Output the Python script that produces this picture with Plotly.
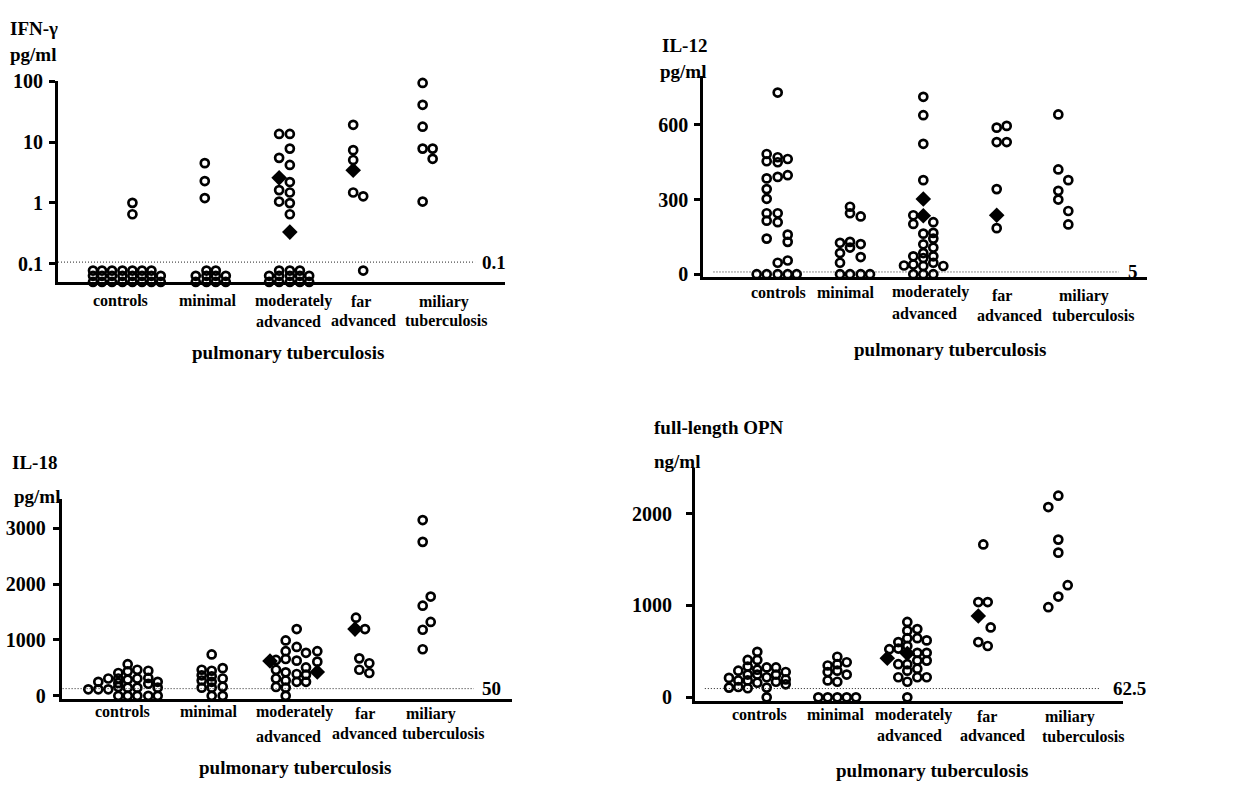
import math
import plotly.graph_objects as go

W, H = 1255, 789
FONT = "Liberation Serif"

CATEGORIES = ["controls", "minimal", "moderately\nadvanced", "far\nadvanced", "miliary\ntuberculosis"]
GROUP_TITLE = "pulmonary tuberculosis"

# ---------------- IFN-gamma (pg/ml, log scale) ----------------
IFN_COLS_X = [9.33, 10.23, 11.23, 12.27, 13.27, 14.23, 15.17, 16.1,
              19.6, 20.5, 20.67, 21.6, 22.6,
              26.93, 27.93, 29.0, 30.0, 30.93,
              35.33, 36.33,
              42.27, 43.27]
IFN_COLS_VALUES = [
    [0.077, 0.063, 0.050], [0.077, 0.063, 0.050], [0.077, 0.063, 0.050], [0.077, 0.063, 0.050],
    [0.077, 0.063, 0.050, 1.0, 0.65], [0.077, 0.063, 0.050], [0.077, 0.063, 0.050], [0.063, 0.050],
    [0.063, 0.050], [4.5, 2.28, 1.2], [0.077, 0.063, 0.050], [0.077, 0.063, 0.050], [0.063, 0.050],
    [0.063, 0.050], [13.6, 5.5, 1.62, 1.05, 0.077, 0.063, 0.050],
    [13.6, 7.8, 4.2, 2.2, 1.48, 0.99, 0.65, 0.077, 0.063, 0.050], [0.077, 0.063, 0.050], [0.063, 0.050],
    [19.2, 7.36, 5.07, 1.48], [1.28, 0.077],
    [93.8, 41.0, 17.9, 7.8, 1.05], [7.8, 5.3],
]
IFN_DIAMOND_X = [27.93, 29.0, 35.33]
IFN_DIAMOND_Y = [2.58, 0.33, 3.43]
IFN_LIMIT = 0.106
IFN_LIMIT_LABEL = "0.1"
IFN_TICKS = [0.1, 1, 10, 100]
IFN_TICK_TEXT = ["0.1", "1", "10", "100"]

# ---------------- IL-12 (pg/ml) ----------------
IL12_COLS_X = [12.67, 13.67, 14.77, 15.77, 16.67,
               21.0, 22.0, 23.07, 24.0,
               27.4, 28.33, 29.33, 30.33, 31.33,
               36.67, 37.67,
               42.83, 43.83]
IL12_COLS_VALUES = [
    [0], [0, 483, 454, 385, 342, 303, 245, 215, 143], [0, 730, 470, 450, 391, 245, 209, 46],
    [0, 463, 398, 159, 130, 55], [0],
    [0, 126, 85, 46], [0, 271, 245, 130, 107], [0, 232, 121, 69], [0],
    [35], [237, 202, 72, 39, 0], [713, 639, 524, 378, 163, 120, 85, 65, 33, 0],
    [209, 166, 143, 107, 72, 46, 0], [33],
    [589, 531, 342, 185], [596, 531],
    [642, 421, 335, 300], [378, 254, 200],
]
IL12_DIAMOND_X = [29.33, 29.33, 36.67]
IL12_DIAMOND_Y = [302, 235, 237]
IL12_LIMIT = 9
IL12_LIMIT_LABEL = "5"
IL12_TICKS = [0, 300, 600]

# ---------------- IL-18 (pg/ml) ----------------
IL18_COLS_X = [8.83, 9.83, 10.83, 11.83, 12.77, 13.73, 14.83, 15.77,
               20.17, 21.17, 22.27,
               27.6, 28.57, 29.67, 30.6, 31.73,
               35.6, 35.93, 36.5, 36.93,
               42.27, 43.07]
IL18_COLS_VALUES = [
    [116], [250, 116], [309, 116], [408, 309, 230, 157, 0], [565, 437, 291, 146, 0],
    [466, 309, 146, 0], [448, 320, 215, 0], [250, 146, 0],
    [466, 367, 274, 146], [740, 448, 349, 250, 146, 0], [495, 309, 163, 0],
    [641, 466, 309, 157], [990, 798, 658, 419, 274, 146, 0], [1194, 874, 629, 390, 250],
    [769, 507, 379, 250], [798, 611],
    [1398], [670, 466], [1194], [582, 408],
    [3145, 2755, 1613, 1182, 833], [1776, 1322],
]
IL18_DIAMOND_X = [27.0, 31.73, 35.5]
IL18_DIAMOND_Y = [623, 425, 1194]
IL18_LIMIT = 128
IL18_LIMIT_LABEL = "50"
IL18_TICKS = [0, 1000, 2000, 3000]

# ---------------- full-length OPN (ng/ml) ----------------
OPN_COLS_X = [9.9, 10.83, 11.77, 12.73, 13.67, 14.6, 15.57,
              18.83, 19.77, 20.73, 21.67, 22.6,
              25.93, 26.83, 27.73, 28.73, 29.67,
              34.83, 35.33, 35.77, 36.07,
              41.83, 42.83, 43.77]
OPN_COLS_VALUES = [
    [212, 106], [290, 184, 113], [407, 336, 248, 184, 99], [496, 407, 301, 248, 159],
    [326, 219, 106, 0], [326, 248, 170], [276, 195, 142],
    [0], [347, 276, 184, 0], [442, 361, 290, 170, 0], [382, 248, 0], [0],
    [524], [602, 531, 361, 219], [821, 726, 644, 559, 361, 290, 170, 0],
    [743, 644, 485, 400, 312, 219], [620, 485, 400, 219],
    [1037, 602], [1664], [1037, 559], [761],
    [2071, 981], [2195, 1717, 1575, 1097], [1221],
]
OPN_DIAMOND_X = [25.73, 27.73, 34.83]
OPN_DIAMOND_Y = [425, 478, 885]
OPN_LIMIT = 96
OPN_LIMIT_LABEL = "62.5"
OPN_TICKS = [0, 1000, 2000]


def expand(cols_x, cols_vals):
    xs, ys = [], []
    for x, vals in zip(cols_x, cols_vals):
        for v in vals:
            xs.append(x)
            ys.append(v)
    return xs, ys


# panel layout in pixels: (left, right, top, bottom), x range, y range
PANELS = [
    dict(data=(IFN_COLS_X, IFN_COLS_VALUES, IFN_DIAMOND_X, IFN_DIAMOND_Y),
         px=(58, 505, 72, 278), xr=[5.833, 50.5], yr=[-1.307, 2.0], log=True,
         ticks=IFN_TICKS, ticktext=IFN_TICK_TEXT, standoff=2,
         limit=IFN_LIMIT, limit_label=IFN_LIMIT_LABEL, lim_dom=(0.0, 0.933), lab_dom=0.975,
         titles=[("IFN-\u03b3", 8, 18), ("pg/ml", 8, 45)],
         cat_x=[(12.1,), (20.77,), (29.33, 28.83), (36.1, 36.33), (44.43, 44.63)],
         cat_y=[(297,), (297,), (297, 318), (298, 317), (298, 317)],
         grp=(28.83, 350)),
    dict(data=(IL12_COLS_X, IL12_COLS_VALUES, IL12_DIAMOND_X, IL12_DIAMOND_Y),
         px=(703.3, 1146.7, 67, 273), xr=[7.33, 51.67], yr=[-13, 795], log=False,
         ticks=IL12_TICKS, ticktext=[str(t) for t in IL12_TICKS], standoff=2,
         limit=IL12_LIMIT, limit_label=IL12_LIMIT_LABEL, lim_dom=(0.023, 0.937), lab_dom=0.968,
         titles=[("IL-12", 660, 35), ("pg/ml", 658, 62)],
         cat_x=[(14.83,), (21.57,), (30.07, 29.4), (37.17, 37.9), (45.43, 46.3)],
         cat_y=[(288,), (288,), (288, 310), (292, 312), (292, 312)],
         grp=(32.0, 347)),
    dict(data=(IL18_COLS_X, IL18_COLS_VALUES, IL18_DIAMOND_X, IL18_DIAMOND_Y),
         px=(61.7, 511.7, 500, 705), xr=[6.17, 51.17], yr=[-58, 3523], log=False,
         ticks=IL18_TICKS, ticktext=[str(t) for t in IL18_TICKS], standoff=3,
         limit=IL18_LIMIT, limit_label=IL18_LIMIT_LABEL, lim_dom=(0.002, 0.916), lab_dom=0.956,
         titles=[("IL-18", 10, 463), ("pg/ml", 12, 497)],
         cat_x=[(12.23,), (20.83,), (29.43, 28.83), (36.5, 36.4), (43.07, 44.27)],
         cat_y=[(718,), (718,), (718, 743), (720, 740), (720, 740)],
         grp=(29.5, 775)),
    dict(data=(OPN_COLS_X, OPN_COLS_VALUES, OPN_DIAMOND_X, OPN_DIAMOND_Y),
         px=(695, 1122.7, 468.3, 707.3), xr=[6.5, 49.27], yr=[-42.5, 2496], log=False,
         ticks=OPN_TICKS, ticktext=[str(t) for t in OPN_TICKS], standoff=10,
         limit=OPN_LIMIT, limit_label=OPN_LIMIT_LABEL, lim_dom=(0.023, 0.946), lab_dom=1.016,
         titles=[("full-length OPN", 652, 427), ("ng/ml", 652, 462)],
         cat_x=[(13.0,), (20.6,), (28.4, 27.93), (35.67, 36.27), (44.03, 45.33)],
         cat_y=[(721,), (721,), (721, 742), (723, 742), (723, 743)],
         grp=(30.17, 778)),
]

fig = go.Figure()
layout = dict(width=W, height=H, margin=dict(l=0, r=0, t=0, b=0),
              paper_bgcolor="white", plot_bgcolor="white", showlegend=False,
              hovermode=False)
shapes, annotations = [], []


def py(p):
    return 1 - p / H


for i, p in enumerate(PANELS, start=1):
    sx = "" if i == 1 else str(i)
    xname, yname = "x" + sx, "y" + sx
    cols_x, cols_vals, dx, dy = p["data"]
    xs, ys = expand(cols_x, cols_vals)
    fig.add_trace(go.Scatter(x=xs, y=ys, mode="markers", xaxis=xname, yaxis=yname,
                             cliponaxis=False, hoverinfo="skip",
                             marker=dict(symbol="circle-open", size=8, color="black",
                                         line=dict(width=2.7, color="black"))))
    fig.add_trace(go.Scatter(x=dx, y=dy, mode="markers", xaxis=xname, yaxis=yname,
                             cliponaxis=False, hoverinfo="skip",
                             marker=dict(symbol="diamond", size=12, color="black",
                                         line=dict(width=0))))
    l, r, t, b = p["px"]
    layout["xaxis" + sx] = dict(domain=[l / W, r / W], range=p["xr"], anchor=yname,
                                showline=True, linewidth=3, linecolor="black",
                                showgrid=False, zeroline=False, showticklabels=False,
                                ticks="", fixedrange=True)
    layout["yaxis" + sx] = dict(domain=[py(b), py(t)],
                                range=p["yr"], type="log" if p["log"] else "linear",
                                anchor=xname, showline=True, linewidth=3, linecolor="black",
                                showgrid=False, zeroline=False, ticks="outside",
                                ticklen=6, tickwidth=3, tickcolor="black",
                                tickvals=p["ticks"], ticktext=p["ticktext"],
                                ticklabelstandoff=p["standoff"],
                                tickfont=dict(family=FONT, size=20, color="black", weight="bold"),
                                fixedrange=True)
    # detection limit line
    shapes.append(dict(type="line", xref=xname + " domain", yref=yname,
                       x0=p["lim_dom"][0], x1=p["lim_dom"][1], y0=p["limit"], y1=p["limit"],
                       line=dict(color="#222", width=1, dash="1px,2px")))
    annotations.append(dict(text=p["limit_label"], xref=xname + " domain", yref=yname,
                            x=p["lab_dom"], y=(math.log10(p["limit"]) if p["log"] else p["limit"]),
                            showarrow=False, xanchor="center", yanchor="middle",
                            font=dict(family=FONT, size=19, color="black", weight="bold")))
    # axis titles
    for txt, x0, y0 in p["titles"]:
        annotations.append(dict(text=txt, xref="paper", yref="paper", x=x0 / W, y=py(y0),
                                showarrow=False, xanchor="left", yanchor="middle",
                                font=dict(family=FONT, size=19, color="black", weight="bold")))
    # category labels
    for cat, cxs, cys in zip(CATEGORIES, p["cat_x"], p["cat_y"]):
        for line, cx, cy in zip(cat.split("\n"), cxs, cys):
            annotations.append(dict(text=line, xref=xname, yref="paper", x=cx, y=py(cy),
                                    showarrow=False, xanchor="center", yanchor="middle",
                                    font=dict(family=FONT, size=16, color="black", weight="bold")))
    gx, gy = p["grp"]
    annotations.append(dict(text=GROUP_TITLE, xref=xname, yref="paper", x=gx, y=py(gy),
                            showarrow=False, xanchor="center", yanchor="middle",
                            font=dict(family=FONT, size=19, color="black", weight="bold")))

layout["shapes"] = shapes
layout["annotations"] = annotations
fig.update_layout(**layout)
fig.write_html("out.html", config={"displayModeBar": False},
               post_script="document.body.style.margin='0';")
